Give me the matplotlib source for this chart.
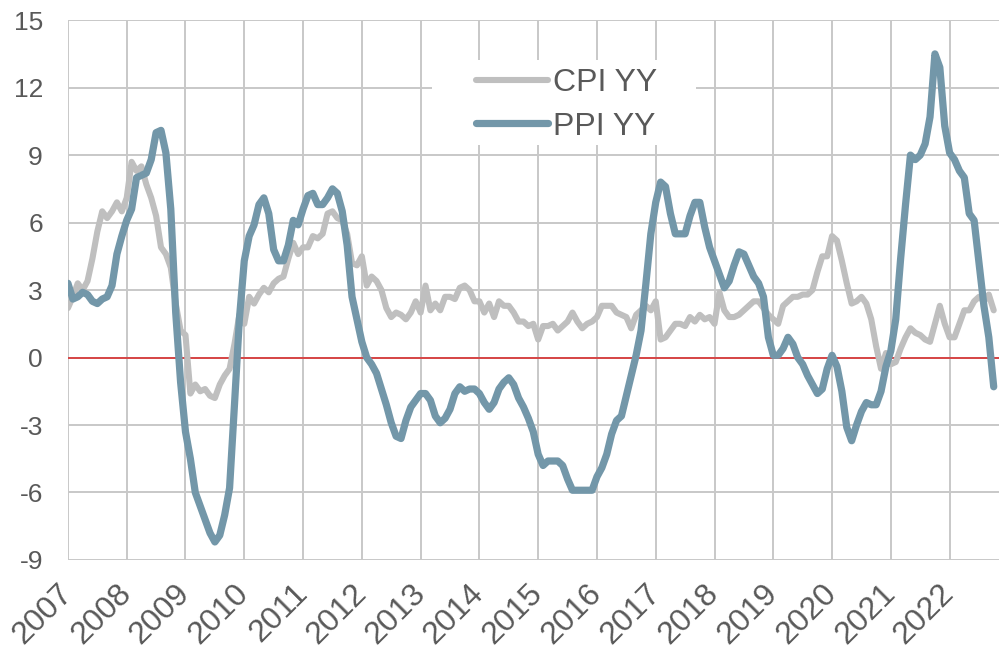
import numpy as np
import matplotlib.pyplot as plt
from matplotlib.patches import Rectangle

plt.rcParams['font.family'] = ['Liberation Sans', 'DejaVu Sans']
plt.rcParams['axes.unicode_minus'] = False

# monthly year-on-year change (%), Jan 2007 .. Oct 2022
cpi = [2.2, 2.7, 3.3, 3.0, 3.4, 4.4, 5.6, 6.5, 6.2, 6.5, 6.9, 6.5,
       7.1, 8.7, 8.3, 8.5, 7.7, 7.1, 6.3, 4.9, 4.6, 4.0, 2.4, 1.2,
       1.0, -1.6, -1.2, -1.5, -1.4, -1.7, -1.8, -1.2, -0.8, -0.5, 0.6, 1.9,
       1.5, 2.7, 2.4, 2.8, 3.1, 2.9, 3.3, 3.5, 3.6, 4.4, 5.1, 4.6,
       4.9, 4.9, 5.4, 5.3, 5.5, 6.4, 6.5, 6.2, 6.1, 5.5, 4.2, 4.1,
       4.5, 3.2, 3.6, 3.4, 3.0, 2.2, 1.8, 2.0, 1.9, 1.7, 2.0, 2.5,
       2.0, 3.2, 2.1, 2.4, 2.1, 2.7, 2.7, 2.6, 3.1, 3.2, 3.0, 2.5,
       2.5, 2.0, 2.4, 1.8, 2.5, 2.3, 2.3, 2.0, 1.6, 1.6, 1.4, 1.5,
       0.8, 1.4, 1.4, 1.5, 1.2, 1.4, 1.6, 2.0, 1.6, 1.3, 1.5, 1.6,
       1.8, 2.3, 2.3, 2.3, 2.0, 1.9, 1.8, 1.3, 1.9, 2.1, 2.3, 2.1,
       2.5, 0.8, 0.9, 1.2, 1.5, 1.5, 1.4, 1.8, 1.6, 1.9, 1.7, 1.8,
       1.5, 2.9, 2.1, 1.8, 1.8, 1.9, 2.1, 2.3, 2.5, 2.5, 2.2, 1.9,
       1.7, 1.5, 2.3, 2.5, 2.7, 2.7, 2.8, 2.8, 3.0, 3.8, 4.5, 4.5,
       5.4, 5.2, 4.3, 3.3, 2.4, 2.5, 2.7, 2.4, 1.7, 0.5, -0.5, 0.2,
       -0.3, -0.2, 0.4, 0.9, 1.3, 1.1, 1.0, 0.8, 0.7, 1.5, 2.3, 1.5,
       0.9, 0.9, 1.5, 2.1, 2.1, 2.5, 2.7, 2.5, 2.8, 2.1]

ppi = [3.3, 2.6, 2.7, 2.9, 2.8, 2.5, 2.4, 2.6, 2.7, 3.2, 4.6, 5.4,
       6.1, 6.6, 8.0, 8.1, 8.2, 8.8, 10.0, 10.1, 9.1, 6.6, 2.0, -1.1,
       -3.3, -4.5, -6.0, -6.6, -7.2, -7.8, -8.2, -7.9, -7.0, -5.8, -2.1, 1.7,
       4.3, 5.4, 5.9, 6.8, 7.1, 6.4, 4.8, 4.3, 4.3, 5.0, 6.1, 5.9,
       6.6, 7.2, 7.3, 6.8, 6.8, 7.1, 7.5, 7.3, 6.5, 5.0, 2.7, 1.7,
       0.7, 0.0, -0.3, -0.7, -1.4, -2.1, -2.9, -3.5, -3.6, -2.8, -2.2, -1.9,
       -1.6, -1.6, -1.9, -2.6, -2.9, -2.7, -2.3, -1.6, -1.3, -1.5, -1.4, -1.4,
       -1.6, -2.0, -2.3, -2.0, -1.4, -1.1, -0.9, -1.2, -1.8, -2.2, -2.7, -3.3,
       -4.3, -4.8, -4.6, -4.6, -4.6, -4.8, -5.4, -5.9, -5.9, -5.9, -5.9, -5.9,
       -5.3, -4.9, -4.3, -3.4, -2.8, -2.6, -1.7, -0.8, 0.1, 1.2, 3.3, 5.5,
       6.9, 7.8, 7.6, 6.4, 5.5, 5.5, 5.5, 6.3, 6.9, 6.9, 5.8, 4.9,
       4.3, 3.7, 3.1, 3.4, 4.1, 4.7, 4.6, 4.1, 3.6, 3.3, 2.7, 0.9,
       0.1, 0.1, 0.4, 0.9, 0.6, 0.0, -0.3, -0.8, -1.2, -1.6, -1.4, -0.5,
       0.1, -0.4, -1.5, -3.1, -3.7, -3.0, -2.4, -2.0, -2.1, -2.1, -1.5, -0.4,
       0.3, 1.7, 4.4, 6.8, 9.0, 8.8, 9.0, 9.5, 10.7, 13.5, 12.9, 10.3,
       9.1, 8.8, 8.3, 8.0, 6.4, 6.1, 4.2, 2.3, 0.9, -1.3]

years = list(range(2007, 2023))
yticks = [-9, -6, -3, 0, 3, 6, 9, 12, 15]

t = 2007 + np.arange(len(cpi)) / 12.0

fig = plt.figure(figsize=(9.99, 6.5), dpi=100)
ax = fig.add_axes([0.068, 0.1385, 0.932, 0.8305])
ax.set_axisbelow(True)

ax.plot(t, cpi, color='#bfbfbf', lw=4.4, label='CPI YY', solid_capstyle='round', zorder=3)
ax.plot(t, ppi, color='#7397a9', lw=5.2, label='PPI YY', solid_capstyle='round', zorder=4)
ax.axhline(0, color='#d83b3b', lw=1.3, zorder=2)

ax.set_xlim(2007, 2022.84)
ax.set_ylim(-9, 15)
ax.set_xticks(years)
ax.set_xticklabels([str(y) for y in years], rotation=45, ha='right',
                   va='center', rotation_mode='anchor')
ax.set_yticks(yticks)
ax.tick_params(axis='both', length=0, colors='#595959')
ax.tick_params(axis='y', pad=18, labelsize=19)
ax.tick_params(axis='x', pad=21, labelsize=23)
ax.grid(True, color='#c8c8c8', lw=1.4)
for s in ax.spines.values():
    s.set_visible(False)

# white block behind the legend hides the grid
ax.add_patch(Rectangle((0.391, 0.7685), 0.2836, 0.157, transform=ax.transAxes,
                       facecolor='white', edgecolor='none', zorder=1))
leg = ax.legend(loc='center', bbox_to_anchor=(0.5355, 0.843), fontsize=23,
                frameon=False, handlelength=2.25, handletextpad=0.15,
                labelspacing=0.42, borderpad=0)
for txt in leg.get_texts():
    txt.set_color('#595959')
leg.set_zorder(5)

fig.savefig('out.png', dpi=100)
